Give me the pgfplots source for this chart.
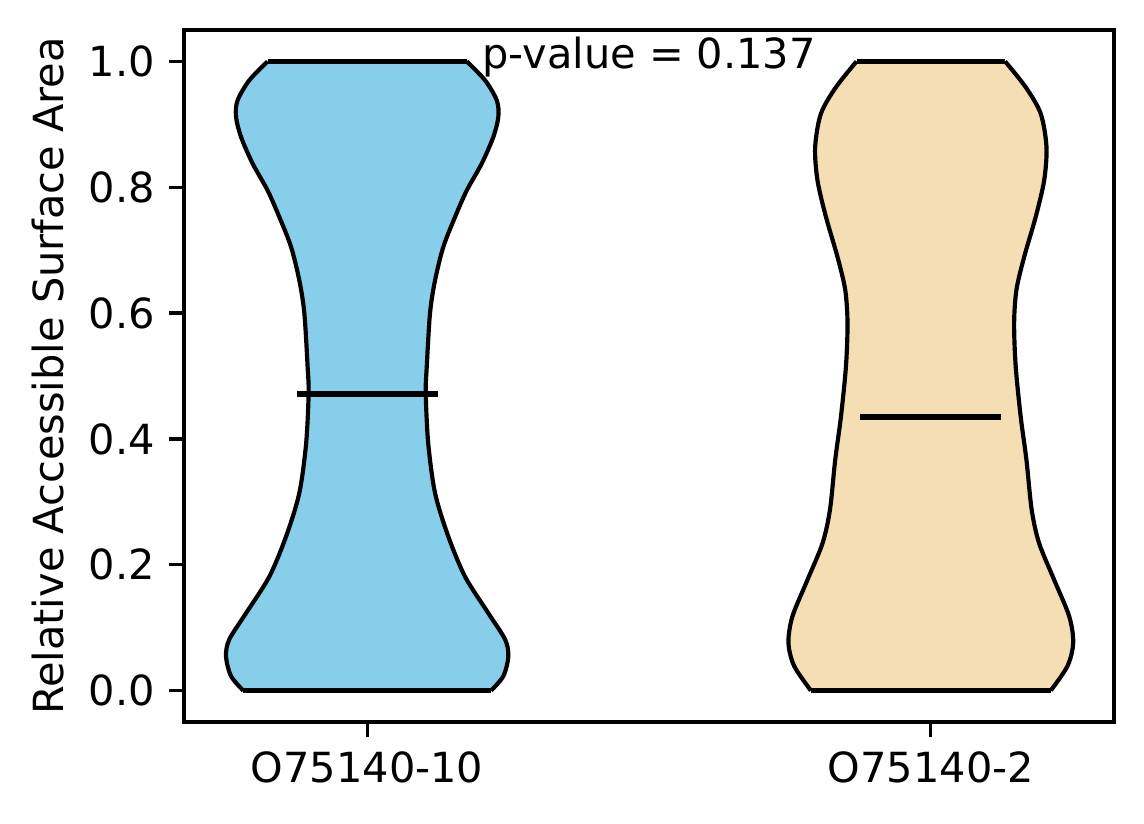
\documentclass[border=0pt]{standalone}
\usepackage{fontspec}
\setmainfont{DejaVu Sans}
\usepackage{pgfplots}
\usepackage{pgfplotstable}
\pgfplotsset{compat=1.18}
\usepgfplotslibrary{fillbetween}
\definecolor{skyblue}{RGB}{135,206,235}
\definecolor{wheat}{RGB}{245,222,179}

% violin 1 (O75140-10): y, half-width
\pgfplotstableread{
y w
1.000 0.1767
0.970 0.2092
0.938 0.2300
0.912 0.2327
0.880 0.2238
0.838 0.2034
0.795 0.1767
0.753 0.1560
0.705 0.1350
0.652 0.1204
0.600 0.1115
0.515 0.1057
0.4725 0.1039
0.393 0.1083
0.314 0.1204
0.245 0.1439
0.181 0.1737
0.123 0.2149
0.081 0.2448
0.054 0.2504
0.023 0.2416
0.000 0.2199
}\violinA

% violin 2 (O75140-2): y, half-width
\pgfplotstableread{
y w
1.000 0.1318
0.959 0.1684
0.917 0.1950
0.864 0.2052
0.811 0.2011
0.753 0.1861
0.689 0.1655
0.637 0.1519
0.584 0.1478
0.515 0.1506
0.435 0.1595
0.367 0.1696
0.287 0.1790
0.234 0.1922
0.176 0.2188
0.118 0.2455
0.076 0.2526
0.039 0.2425
0.000 0.2128
}\violinB

\begin{document}
\begin{tikzpicture}
\begin{axis}[
  at={(0,0)}, anchor=south west,
  scale only axis, width=223.2bp, height=166.08bp,
  xmin=0.675, xmax=2.325, ymin=-0.05, ymax=1.05,
  xtick={1,2}, xticklabels={O75140-10,O75140-2},
  ytick={0,0.2,0.4,0.6,0.8,1.0},
  tick align=outside, xtick pos=bottom, ytick pos=left,
  major tick length=3.5bp,
  tick style={black, line width=0.8bp},
  axis line style={line width=0.8bp},
  /pgf/number format/assume math mode=true,
  yticklabel style={/pgf/number format/fixed, /pgf/number format/precision=1, /pgf/number format/fixed zerofill},
  ticklabel style={font=\fontsize{10}{12}\selectfont},
]
% violin 1
\addplot[name path=L1, black, line width=1bp, smooth] table[x expr={1-\thisrow{w}}, y=y] {\violinA};
\addplot[name path=R1, black, line width=1bp, smooth] table[x expr={1+\thisrow{w}}, y=y] {\violinA};
\addplot[fill=skyblue, draw=none] fill between[of=L1 and R1, reverse=true];
\addplot[black, line width=1bp] coordinates {(0.8233,1) (1.1767,1)};
\addplot[black, line width=1bp] coordinates {(0.7801,0) (1.2199,0)};
\addplot[black, line width=1.5bp] coordinates {(0.875,0.471) (1.125,0.471)};
% violin 2
\addplot[name path=L2, black, line width=1bp, smooth] table[x expr={2-\thisrow{w}}, y=y] {\violinB};
\addplot[name path=R2, black, line width=1bp, smooth] table[x expr={2+\thisrow{w}}, y=y] {\violinB};
\addplot[fill=wheat, draw=none] fill between[of=L2 and R2, reverse=true];
\addplot[black, line width=1bp] coordinates {(1.8682,1) (2.1318,1)};
\addplot[black, line width=1bp] coordinates {(1.7872,0) (2.2128,0)};
\addplot[black, line width=1.5bp] coordinates {(1.875,0.435) (2.125,0.435)};
\node[anchor=base, font=\fontsize{10}{12}\selectfont] at (axis cs:1.5,0.989) {p-value = 0.137};
\end{axis}
\node[rotate=90, anchor=base, font=\fontsize{10}{12}\selectfont] at (-28.97bp,83.04bp) {Relative Accessible Surface Area};
\pgfresetboundingbox
\path[use as bounding box] (-44.16bp,-24.48bp) rectangle (230.4bp,173.28bp);
\end{tikzpicture}
\end{document}
